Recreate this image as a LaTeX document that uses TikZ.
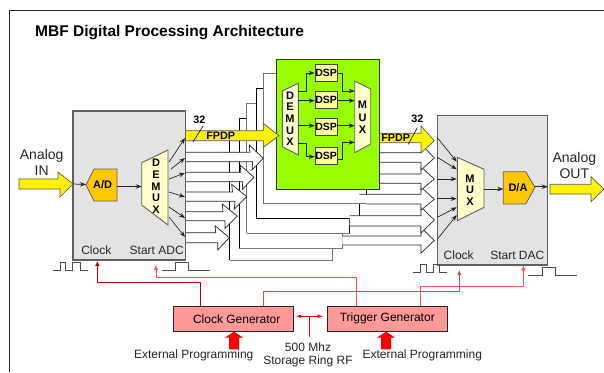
\documentclass[tikz,border=0pt]{standalone}
\usepackage{fontspec}
\setmainfont{Liberation Sans}
\usetikzlibrary{arrows.meta}
\definecolor{boxgray}{HTML}{E3E3E3}
\definecolor{edgegray}{HTML}{606060}
\definecolor{adcfill}{HTML}{FFC800}
\definecolor{muxfill}{HTML}{FFFFCC}
\definecolor{dspfill}{HTML}{FFFF99}
\definecolor{greenfill}{HTML}{99FF00}
\definecolor{genfill}{HTML}{FF9999}
\definecolor{redA}{HTML}{C00000}
\definecolor{redB}{HTML}{FF5050}
\tikzset{
  x=1pt,y=-1pt,
  frameline/.style={draw=black!85,line width=1.2pt},
  layerg/.style={draw=black!55,line width=1pt},
  layerk/.style={draw=black,line width=.7pt},
  fatwhite/.style={draw=black!85,fill=white,line width=.7pt},
  fatyellow/.style={draw=black!65,fill=yellow,line width=.7pt},
  graybox/.style={draw=edgegray,fill=boxgray,line width=1.1pt,minimum width=#1,inner sep=0pt},
  conv/.style={draw=edgegray,fill=adcfill,line width=.8pt},
  muxshape/.style={draw=edgegray,fill=muxfill,line width=.9pt},
  dspbox/.style={draw=black!75,fill=dspfill,line width=.8pt,inner sep=0pt,minimum width=22.3pt,minimum height=17pt,font=\fontsize{10.5}{11}\selectfont\bfseries},
  genbox/.style={draw=black!85,fill=genfill,line width=.9pt,inner sep=0pt,minimum width=120pt,minimum height=24.3pt,font=\fontsize{12}{12}\selectfont},
  sig/.style={draw=black!85,line width=.7pt,-{Stealth[length=6pt,width=4.5pt]}},
  pulse/.style={draw=black!70,line width=.8pt},
  lab/.style={inner sep=0pt,font=\fontsize{12}{12}\selectfont,text=black!85},
  biglab/.style={inner sep=0pt,font=\fontsize{14}{14}\selectfont,text=black!85},
  blab/.style={inner sep=0pt,font=\fontsize{11}{12}\selectfont\bfseries},
  fplab/.style={inner sep=0pt,font=\fontsize{10.8}{12}\selectfont\bfseries},
  letter/.style={inner sep=0pt,font=\fontsize{11}{11}\selectfont\bfseries},
  redline/.style={line width=.9pt,-{Latex[length=5pt,width=4.5pt]}},
  bigred/.style={fill=red,draw=none},
}
\begin{document}
\begin{tikzpicture}
\useasboundingbox (0,0) rectangle (604,372);
\path[fill=white] (0,0) rectangle (604,372);
% frame
\coordinate (fb) at (9.5,372); \coordinate (ft) at (9.5,10.5); \coordinate (fr) at (604,10.5);
\draw[frameline] (fb) -- (ft) -- (fr);
\node[inner sep=0pt,anchor=west,font=\fontsize{15.5}{16}\selectfont\bfseries] (title) at (35,32.7) {MBF Digital Processing Architecture};

% stacked boards, back to front
\fill[white] (229.7,133) rectangle (332.3,260);
\draw[layerk] (229.7,133) -- (229.7,260); \draw[layerg] (229.7,260) -- (332.3,260) -- (332.3,248);
\fill[white] (239.3,118.3) rectangle (342.3,248);
\draw[layerk] (239.3,248) -- (239.3,118.3) -- (276,118.3); \draw[layerg] (239.3,248) -- (342.3,248) -- (342.3,233);
\fill[white] (246.7,103.7) rectangle (349.7,233);
\draw[layerg] (246.7,233) -- (246.7,103.7) -- (276,103.7); \draw[layerg] (246.7,233) -- (349.7,233); \draw[layerk] (349.7,233) -- (349.7,218.3);
\fill[white] (256.3,88.7) rectangle (359.3,218.3);
\draw[layerk] (256.3,218.3) -- (256.3,88.7) -- (276,88.7); \draw[layerk] (256.3,218.3) -- (359.3,218.3) -- (359.3,203.7);
\fill[white] (263.7,73) rectangle (366.7,203.7);
\draw[layerg] (263.7,203.7) -- (263.7,73) -- (276,73); \draw[layerg] (263.7,203.7) -- (366.7,203.7); \draw[layerk] (366.7,203.7) -- (366.7,189);

% arrows into the output side (bottom to top)
\filldraw[fatwhite] (342.3,236) -- (421,236) -- (421,227.5) -- (434.3,240.5) -- (421,253) -- (421,245) -- (342.3,245);
\filldraw[fatwhite] (349.7,215.7) -- (421,215.7) -- (421,207) -- (434.3,220) -- (421,233) -- (421,226) -- (349.7,226);
\filldraw[fatwhite] (359.3,194.3) -- (421,194.3) -- (421,187) -- (434.3,199.3) -- (421,210) -- (421,204) -- (366.7,204);
\filldraw[fatwhite] (379,174) -- (421,174) -- (421,167) -- (434.3,179) -- (421,190) -- (421,183.3) -- (379,183.3);
\filldraw[fatwhite] (379,152.7) -- (421,152.7) -- (424,147) -- (434.3,158) -- (421,170) -- (421,162.3) -- (379,162.3);
\filldraw[fatyellow] (379,133.3) -- (421,133.3) -- (421,126) -- (434.3,140.7) -- (421,153) -- (421,142.7) -- (379,142.7) -- cycle;

% arrows out of the input side
\filldraw[fatwhite] (185,232.7) -- (215.7,232.7) -- (215,225.7) -- (229.3,237.7) -- (217.7,250) -- (217.7,242.7) -- (185,242.7);
\filldraw[fatwhite] (185,211.7) -- (223,211.7) -- (222.3,204) -- (237.3,216) -- (225,228.3) -- (225,220.7) -- (185,220.7);
\filldraw[fatwhite] (185,192) -- (232.5,192) -- (231.7,184.3) -- (246.7,196.7) -- (234.3,209) -- (235,201.3) -- (185,201.3);
\filldraw[fatwhite] (185,172.3) -- (241,172.3) -- (240,165) -- (254,177.3) -- (242.3,189.3) -- (242.7,181.7) -- (185,181.7);
\filldraw[fatwhite] (185,152.3) -- (250,152.3) -- (249.3,145) -- (263.3,158.3) -- (252,170) -- (252.7,161.7) -- (185,161.7);

% green board
\node[draw=black!80,fill=greenfill,line width=1pt,inner sep=0pt,minimum width=103pt,minimum height=129.8pt] (board) at (327.5,124.4) {};
\filldraw[fatyellow] (185.5,130.7) -- (263.3,130.7) -- (263.3,123.3) -- (279,135.7) -- (263.3,147.3) -- (263.3,140.7) -- (185.5,140.7) -- cycle;

% board demux / mux
\filldraw[muxshape] (282.3,91) -- (298.3,83.3) -- (298.3,155) -- (282.3,146.7) -- cycle;
\filldraw[muxshape] (354.7,81) -- (370.7,89) -- (370.7,144) -- (354.7,152.7) -- cycle;
\foreach \c/\yy in {D/96,E/107,M/119,U/130.7,X/142} \node[letter] (bd\c) at (290,\yy) {\c};
\foreach \c/\yy in {M/105,U/117.3,X/129.3} \node[letter] (bm\c) at (362.5,\yy) {\c};
\node[dspbox] (dspa) at (326.2,72.8) {DSP};
\node[dspbox] (dspb) at (326.2,100) {DSP};
\node[dspbox] (dspc) at (326.2,126.7) {DSP};
\node[dspbox] (dspd) at (326.2,156.2) {DSP};
\coordinate (bdo1) at (298.3,91.7); \coordinate (bdo2) at (298.3,100.7); \coordinate (bdo3) at (298.3,125.7); \coordinate (bdo4) at (298.3,143);
\coordinate (bmi1) at (354.7,91); \coordinate (bmi2) at (354.7,100.7); \coordinate (bmi3) at (354.7,125.7); \coordinate (bmi4) at (354.7,142.3);
\draw[sig] (bdo1) -- (306,91.7) -- (306,73) -- (dspa.west |- 0,73);
\draw[sig] (bdo2) -- (dspb.west |- bdo2);
\draw[sig] (bdo3) -- (dspc.west |- bdo3);
\draw[sig] (bdo4) -- (306,143) -- (306,156.7) -- (dspd.west |- 0,156.7);
\draw[sig] (dspa.east |- 0,73.3) -- (342.7,73.3) -- (342.7,91) -- (bmi1);
\draw[sig] (dspb.east |- bmi2) -- (bmi2);
\draw[sig] (dspc.east |- bmi3) -- (bmi3);
\draw[sig] (dspd.east |- 0,159.3) -- (342.5,159.3) -- (342.5,142.3) -- (bmi4);

% left box
\node[graybox=112.5pt,minimum height=149pt] (lbox) at (129.2,185.5) {};
\filldraw[fatyellow] (19,179) -- (58,179) -- (58,172) -- (73,184) -- (60,197) -- (60,189) -- (19,189) -- cycle;
\coordinate (intip) at (73,184);
\filldraw[conv] (117,169) -- (117,201) -- (94,201) -- (86,185) -- (94,169) -- cycle;
\coordinate (adw) at (86,184.5); \coordinate (ade) at (117,186.5);
\node[blab] (adlab) at (102.7,185) {A/D};
\filldraw[muxshape] (141.7,162.7) -- (168,150) -- (168,225) -- (141.7,205) -- cycle;
\coordinate (dmw) at (141.7,186.5);
\foreach \c/\yy in {D/163,E/175,M/187,U/198,X/210} \node[letter] (ld\c) at (156,\yy) {\c};
\draw[sig] (intip) -- (adw);
\draw[sig] (ade) -- (dmw);
\foreach \i/\ax/\ay/\by in {1/169/162/138,2/171/169/158,3/169/179/173,4/169/192/197,5/169/207/218,6/169/217/237}{
  \coordinate (dmo\i) at (\ax,\ay); \coordinate (lout\i) at (185,\by);
  \draw[sig] (dmo\i) -- (lout\i);
}
\node[lab] (lclk) at (96.3,250.7) {Clock};
\node[lab] (ladc) at (156.7,250.3) {Start ADC};
\node[biglab] (anin1) at (41.7,155.5) {Analog};
\node[biglab] (anin2) at (41.7,170.5) {IN};

% right box
\node[graybox=110pt,minimum height=149.3pt] (rbox) at (492.7,190.3) {};
\filldraw[muxshape] (457.3,157.3) -- (484,169.3) -- (484,207.3) -- (457.3,220.7) -- cycle;
\foreach \c/\yy in {M/178.3,U/190,X/201.7} \node[letter] (rm\c) at (470,\yy) {\c};
\foreach \i/\ay/\by in {1/137.7/161.7,2/157.3/169.3,3/179/179,4/198.7/198.7,5/217.3/207.3,6/239.3/215}{
  \coordinate (rin\i) at (437.3,\ay); \coordinate (mxi\i) at (456.7,\by);
  \draw[sig] (rin\i) -- (mxi\i);
}
\filldraw[conv] (503.3,171.7) -- (525.7,171.7) -- (535,187.3) -- (525.7,204) -- (503.3,204) -- cycle;
\coordinate (mxe) at (484,189); \coordinate (daw) at (503.3,189); \coordinate (dae) at (535,186.7); \coordinate (rbe) at (547.7,186.7);
\node[blab] (dalab) at (518,187.7) {D/A};
\draw[sig] (mxe) -- (daw);
\draw[sig] (dae) -- (rbe);
\node[lab] (rclk) at (458.7,255) {Clock};
\node[lab] (rdac) at (517.3,255) {Start DAC};
\filldraw[fatyellow] (550,184.3) -- (591,184.3) -- (591,176.7) -- (604,189) -- (591,201.7) -- (591,194) -- (550,194) -- cycle;
\node[biglab] (anout1) at (574.3,158.5) {Analog};
\node[biglab] (anout2) at (574.3,173.5) {OUT};

% FPDP labels
\node[fplab] (fp1) at (220.7,135.7) {FPDP};
\node[fplab] (fp2) at (395.7,137.7) {FPDP};
\node[fplab] (n32a) at (199.3,120) {32};
\node[fplab] (n32b) at (417.3,119) {32};
\coordinate (sa1) at (203.3,125.7); \coordinate (sa2) at (192.7,142.3);
\coordinate (sb1) at (417.3,127.7); \coordinate (sb2) at (408.3,144.3);
\draw[black,line width=.6pt] (sa1) -- (sa2);
\draw[black,line width=.6pt] (sb1) -- (sb2);

% pulses
\draw[pulse] (53.3,270) -- (60.7,270) -- (60.7,262.3) -- (65.7,262.3) -- (65.7,270) -- (72.7,270) -- (72.7,262.3) -- (80.7,262.3) -- (80.7,270) -- (87.7,270);
\draw[pulse] (161.7,270) -- (175.7,270) -- (175.7,262.3) -- (188.3,262.3) -- (188.3,270) -- (210,270);
\draw[pulse] (413.3,272.3) -- (420.7,272.3) -- (420.7,264.3) -- (426.7,264.3) -- (426.7,272.3) -- (433.3,272.3) -- (433.3,264.3) -- (439.3,264.3) -- (439.3,272.3) -- (446.7,272.3);
\draw[pulse] (528,275) -- (542.7,275) -- (542.7,267.3) -- (555,267.3) -- (555,275) -- (576.7,275);

% generators
\node[genbox] (cgen) at (233.3,318.8) {\kern6.8pt Clock Generator};
\node[genbox] (tgen) at (387.3,318.8) {Trigger Generator};
\coordinate (ladcin) at (156,265); \coordinate (lclkin) at (97.3,261); \coordinate (rclkin) at (459.3,270); \coordinate (rdacin) at (523.3,265.5);
\draw[redline,draw=redB] (tgen.north -| 356.7,0) -- (356.7,277.3) -- (156,277.3) -- (ladcin);
\draw[redline,draw=redB] (tgen.north -| 420,0) -- (420,286.7) -- (523.3,286.7) -- (rdacin);
\draw[redline,draw=redA!70!white] (cgen.north -| 263.3,0) -- (263.3,291.7) -- (459.3,291.7) -- (rclkin);
\draw[redline,draw=redA] (cgen.north -| 200,0) -- (200,282.3) -- (97.3,282.3) -- (lclkin);

% RF
\coordinate (rfl) at (296,316.3); \coordinate (rfr) at (322.7,316.3);
\coordinate (rfj) at (309.3,316.3); \coordinate (rfb) at (309.3,337.3);
\draw[red,line width=.8pt,{Latex[length=5pt,width=4pt]}-{Latex[length=5pt,width=4pt]}] (rfl) -- (rfr);
\draw[red,line width=.8pt] (rfj) -- (rfb);
\node[lab] (rf1) at (308,347.7) {500 Mhz};
\node[lab] (rf2) at (308,361) {Storage Ring RF};

% external programming
\filldraw[bigred] (234,331.7) -- (243,337.5) -- (239,337.5) -- (239,349.3) -- (229,349.3) -- (229,337.5) -- (225,337.5) -- cycle;
\filldraw[bigred] (386,331.7) -- (395,337.5) -- (391,337.5) -- (391,349.3) -- (381,349.3) -- (381,337.5) -- (377,337.5) -- cycle;
\node[lab] (ext1) at (193.7,355) {External Programming};
\node[lab] (ext2) at (422.3,355.7) {External Programming};
\end{tikzpicture}
\end{document}
